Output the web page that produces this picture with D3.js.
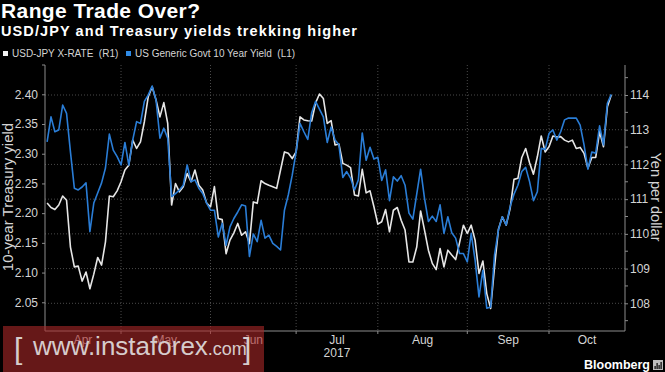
<!DOCTYPE html>
<html>
<head>
<meta charset="utf-8">
<script src="https://cdn.jsdelivr.net/npm/d3@7"></script>
<style>
  body { margin: 0; background: #000; }
  svg { display: block; font-family: 'Liberation Sans', Arial, sans-serif; }
</style>
</head>
<body>
<svg id="chart" width="665" height="372"></svg>
<script>
/* global d3 */

// USD-JPY X-RATE, one value per trading day from 4 Apr 2017
const yenValues = [
  110.89, 110.76, 110.70, 110.83, 111.09, 110.97, 109.62, 109.05, 109.07, 108.64,
  108.90, 108.42, 108.84, 109.32, 109.10, 109.77, 111.09, 111.07, 111.24, 111.50,
  111.84, 111.98, 112.70, 112.46, 112.65, 113.23, 113.95, 114.24, 113.86, 113.37,
  113.78, 113.18, 110.83, 111.45, 111.21, 111.36, 111.74, 111.50, 111.84, 111.40,
  111.26, 110.89, 110.78, 111.36, 110.44, 110.41, 109.43, 109.82, 110.03, 110.30,
  109.96, 110.06, 109.72, 110.92, 110.88, 111.53, 111.45, 111.40, 111.36, 111.31,
  111.84, 112.36, 112.32, 112.17, 112.36, 113.37, 113.28, 113.26, 113.25, 113.77,
  114.03, 113.90, 113.18, 113.26, 112.56, 112.59, 112.03, 111.98, 111.91, 111.12,
  111.09, 111.86, 111.18, 111.24, 110.78, 110.28, 110.35, 110.70, 110.06, 110.68,
  110.76, 110.39, 110.11, 109.19, 109.19, 109.62, 110.66, 110.11, 109.53, 109.15,
  108.97, 109.58, 109.05, 109.53, 109.39, 109.26, 109.74, 110.25, 110.01, 110.25,
  109.82, 108.86, 109.22, 108.28, 107.85, 109.05, 110.13, 110.49, 110.25, 110.73,
  111.57, 111.60, 112.20, 112.46, 112.05, 111.72, 112.22, 112.82, 112.36, 112.51,
  112.82, 112.79, 112.80, 112.70, 112.65, 112.70, 112.46, 112.49, 112.32, 111.89,
  112.20, 112.20, 112.94, 112.51, 113.66, 114.00
];

// US Generic Govt 10 Year Yield, same days
const yieldValues = [
  2.320, 2.362, 2.337, 2.340, 2.382, 2.368, 2.303, 2.242, 2.239, 2.244,
  2.251, 2.169, 2.217, 2.234, 2.251, 2.276, 2.333, 2.306, 2.295, 2.281,
  2.319, 2.281, 2.323, 2.354, 2.351, 2.388, 2.399, 2.414, 2.390, 2.326,
  2.343, 2.326, 2.228, 2.233, 2.239, 2.247, 2.281, 2.253, 2.256, 2.242,
  2.233, 2.217, 2.205, 2.205, 2.160, 2.183, 2.146, 2.177, 2.191, 2.202,
  2.214, 2.212, 2.127, 2.165, 2.152, 2.188, 2.158, 2.163, 2.149, 2.144,
  2.138, 2.205, 2.231, 2.264, 2.303, 2.351, 2.337, 2.324, 2.369, 2.388,
  2.375, 2.362, 2.319, 2.345, 2.323, 2.315, 2.260, 2.270, 2.259, 2.239,
  2.256, 2.335, 2.289, 2.311, 2.291, 2.294, 2.255, 2.273, 2.221, 2.261,
  2.254, 2.263, 2.247, 2.200, 2.190, 2.232, 2.274, 2.225, 2.186, 2.195,
  2.186, 2.214, 2.166, 2.194, 2.167, 2.158, 2.132, 2.132, 2.118, 2.166,
  2.121, 2.059, 2.104, 2.040, 2.042, 2.130, 2.172, 2.194, 2.180, 2.211,
  2.232, 2.247, 2.270, 2.277, 2.253, 2.221, 2.236, 2.309, 2.307, 2.334,
  2.340, 2.323, 2.337, 2.357, 2.360, 2.360, 2.360, 2.348, 2.315, 2.274,
  2.303, 2.301, 2.347, 2.315, 2.385, 2.400
];

const firstDate = new Date(2017, 3, 4);
const monthStarts = [
  new Date(2017, 3, 3), new Date(2017, 4, 1), new Date(2017, 5, 1), new Date(2017, 6, 3),
  new Date(2017, 7, 1), new Date(2017, 8, 1), new Date(2017, 9, 2), new Date(2017, 10, 1)
];
const monthLabels = ['Apr', 'May', 'Jun', 'Jul', 'Aug', 'Sep', 'Oct'];
const yieldTicks = [2.05, 2.10, 2.15, 2.20, 2.25, 2.30, 2.35, 2.40];
const yenTicks = [108, 109, 110, 111, 112, 113, 114];
const yenMinorTicks = [107.5, 108.5, 109.5, 110.5, 111.5, 112.5, 113.5, 114.5];

const plotLeft = 45, plotRight = 625, plotTop = 65, plotBottom = 331;
const axisColor = '#8c8c8c';
const textColor = '#d4d4d4';
const gridColor = '#4a4a4a';
const blue = '#2a7dd6';
const white = '#e6e6e6';

const svg = d3.select('#chart');
svg.append('rect').attr('width', 665).attr('height', 372).attr('fill', '#000');

// x axis counts trading days (weekdays) from 3 Apr
const tradingDays = d3.timeDay.range(new Date(2017, 3, 3), new Date(2017, 10, 2))
  .filter(d => d.getDay() % 6 !== 0);
const dayIndex = (d) => tradingDays.findIndex(t => +t === +d);
const startIdx = dayIndex(firstDate);

const x = d3.scaleLinear().domain([0.46, 149.53]).range([plotLeft, plotRight]);
const yLeft = d3.scaleLinear().domain([2.0, 2.45]).range([332, 64.6]);
const yRight = d3.scaleLinear().domain([108, 114]).range([303.3, 95]);

// grid
const grid = svg.append('g').attr('stroke', gridColor).attr('stroke-dasharray', '1,2');
grid.selectAll('line.h').data(yenTicks).enter().append('line')
  .attr('x1', plotLeft).attr('x2', plotRight)
  .attr('y1', d => yRight(d)).attr('y2', d => yRight(d));
grid.selectAll('line.v').data(monthStarts.slice(1, 7)).enter().append('line')
  .attr('x1', d => x(dayIndex(d))).attr('x2', d => x(dayIndex(d)))
  .attr('y1', plotTop).attr('y2', plotBottom);

// lines
const yenLine = d3.line().x((d, i) => x(startIdx + i)).y(d => yRight(d));
const yieldLine = d3.line().x((d, i) => x(startIdx + i)).y(d => yLeft(d));

svg.append('path').datum(yenValues)
  .attr('d', yenLine).attr('fill', 'none').attr('stroke', white)
  .attr('stroke-width', 1.6).attr('stroke-linejoin', 'round');
svg.append('path').datum(yieldValues)
  .attr('d', yieldLine).attr('fill', 'none').attr('stroke', blue)
  .attr('stroke-width', 1.6).attr('stroke-linejoin', 'round');

// left axis
const leftAxis = svg.append('g').attr('transform', `translate(${plotLeft},0)`)
  .call(d3.axisLeft(yLeft).tickValues(yieldTicks).tickFormat(d3.format('.2f')).tickSize(3).tickPadding(4));
leftAxis.select('.domain').remove();
leftAxis.selectAll('line').attr('stroke', axisColor);
leftAxis.selectAll('text').attr('fill', textColor).style('font-size', '12px');

// right axis
const rightAxis = svg.append('g').attr('transform', `translate(${plotRight},0)`)
  .call(d3.axisRight(yRight).tickValues(yenTicks).tickFormat(d3.format('d')).tickSize(3).tickPadding(2));
rightAxis.select('.domain').remove();
rightAxis.selectAll('line').attr('stroke', axisColor);
rightAxis.selectAll('text').attr('fill', textColor).style('font-size', '12px');
svg.append('g').selectAll('line').data(yenMinorTicks).enter().append('line')
  .attr('x1', plotRight).attr('x2', plotRight + 3)
  .attr('y1', d => yRight(d)).attr('y2', d => yRight(d))
  .attr('stroke', axisColor);

// frame lines
svg.append('line').attr('x1', plotLeft).attr('x2', plotLeft).attr('y1', plotTop).attr('y2', plotBottom).attr('stroke', axisColor);
svg.append('line').attr('x1', plotLeft - 3).attr('x2', plotLeft).attr('y1', plotTop).attr('y2', plotTop).attr('stroke', axisColor);
svg.append('line').attr('x1', plotRight).attr('x2', plotRight).attr('y1', plotTop).attr('y2', plotBottom).attr('stroke', axisColor);
svg.append('line').attr('x1', plotLeft).attr('x2', plotRight).attr('y1', plotBottom).attr('y2', plotBottom).attr('stroke', axisColor);

// bottom axis
svg.append('g').selectAll('line').data(monthStarts.slice(1, 7)).enter().append('line')
  .attr('x1', d => x(dayIndex(d))).attr('x2', d => x(dayIndex(d)))
  .attr('y1', plotBottom).attr('y2', plotBottom + 3)
  .attr('stroke', axisColor);

svg.append('g').selectAll('text').data(monthLabels).enter().append('text')
  .attr('x', (d, i) => {
    const a = Math.max(x(dayIndex(monthStarts[i])), plotLeft);
    const b = Math.min(x(dayIndex(monthStarts[i + 1])), plotRight);
    return (a + b) / 2;
  })
  .attr('y', 343.5)
  .attr('text-anchor', 'middle')
  .attr('fill', textColor)
  .style('font-size', '12px')
  .text(d => d);

svg.append('text')
  .attr('x', (x(dayIndex(monthStarts[3])) + x(dayIndex(monthStarts[4]))) / 2)
  .attr('y', 357)
  .attr('text-anchor', 'middle')
  .attr('fill', textColor)
  .style('font-size', '12px')
  .text('2017');

// axis titles
svg.append('text')
  .attr('transform', 'translate(13,197) rotate(-90)')
  .attr('text-anchor', 'middle')
  .attr('fill', textColor)
  .style('font-size', '15px')
  .text('10-year Treasury yield');

svg.append('text')
  .attr('transform', 'translate(651,197) rotate(90)')
  .attr('text-anchor', 'middle')
  .attr('fill', textColor)
  .style('font-size', '14.5px')
  .text('Yen per dollar');

// titles
svg.append('text')
  .attr('x', 1).attr('y', 18)
  .attr('fill', '#fff')
  .attr('textLength', 199)
  .style('font-size', '21px').style('font-weight', 'bold')
  .text('Range Trade Over?');

svg.append('text')
  .attr('x', 1).attr('y', 36)
  .attr('fill', '#fff')
  .attr('textLength', 356)
  .style('font-size', '14.5px').style('font-weight', 'bold')
  .text('USD/JPY and Treasury yields trekking higher');

// legend
const legend = [
  { label: 'USD-JPY X-RATE\u00a0\u00a0(R1)', color: '#f2f2f2', x: 3 },
  { label: 'US Generic Govt 10 Year Yield\u00a0\u00a0(L1)', color: '#2f8be6', x: 126 }
];
const lg = svg.append('g').selectAll('g').data(legend).enter().append('g');
lg.append('rect')
  .attr('x', d => d.x).attr('y', 51).attr('width', 5).attr('height', 5)
  .attr('fill', d => d.color);
lg.append('text')
  .attr('x', d => d.x + 9).attr('y', 57)
  .attr('fill', textColor)
  .style('font-size', '10px')
  .text(d => d.label);

// Bloomberg mark
svg.append('text')
  .attr('x', 650).attr('y', 369)
  .attr('text-anchor', 'end')
  .attr('fill', '#fff')
  .style('font-size', '12.5px').style('font-weight', 'bold')
  .text('Bloomberg');
const logo = svg.append('g').attr('transform', 'translate(653,360)');
logo.append('rect').attr('width', 10).attr('height', 10).attr('fill', '#bdbdbd');
logo.selectAll('rect.bar').data([3, 6, 4, 7]).enter().append('rect')
  .attr('x', (d, i) => 1.5 + i * 2).attr('y', d => 9 - d)
  .attr('width', 1.2).attr('height', d => d).attr('fill', '#000');

// watermark
svg.append('rect')
  .attr('x', 3).attr('y', 326).attr('width', 261).attr('height', 46)
  .attr('fill', 'rgb(170,40,40)').attr('opacity', 0.6);
const wm = svg.append('text')
  .attr('y', 355)
  .attr('fill', '#d6cccc')
  .style('font-weight', '300');
wm.append('tspan').attr('x', 14).attr('y', 359).style('font-size', '30px').text('[');
wm.append('tspan').attr('x', 33).attr('y', 355).style('font-size', '26px').text('www.instaforex');
wm.append('tspan').style('font-size', '18px').text('.com');
wm.append('tspan').attr('x', 243).attr('y', 359).style('font-size', '30px').text(']');
</script>
</body>
</html>
